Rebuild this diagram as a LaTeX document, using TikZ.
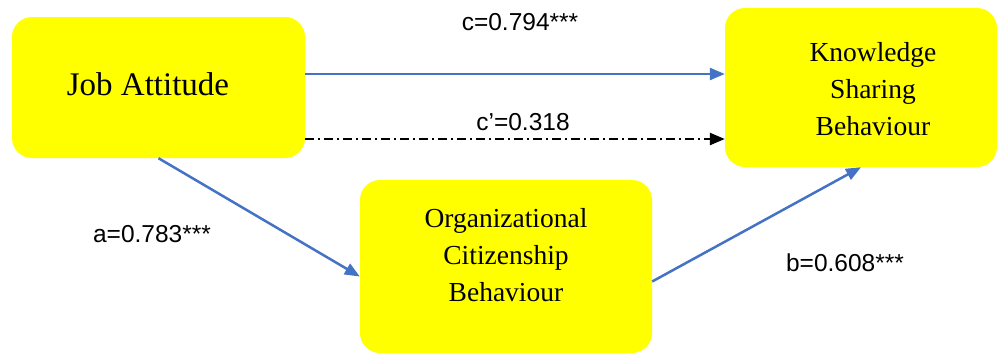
\documentclass[tikz,border=0pt]{standalone}
\usepackage{fontspec}
\setmainfont{Liberation Serif}
\setsansfont{Liberation Sans}
\usetikzlibrary{arrows.meta}

\definecolor{pathblue}{HTML}{4472C4}
\definecolor{boxyellow}{HTML}{FFFF00}

\tikzset{
  var/.style={fill=boxyellow, rounded corners=20pt, inner sep=0pt},
  vartext/.style={align=center, inner sep=0pt, font=\fontsize{27.5}{37}\selectfont},
  coef/.style={font=\sffamily\fontsize{24.5}{29}\selectfont, inner sep=0pt},
  path/.style={draw=pathblue, line width=2.5pt, -{Triangle[length=15pt,width=12pt]}},
  direct/.style={draw=black, line width=2.5pt, dash pattern=on 9pt off 4pt on 2pt off 4pt,
    -{Triangle[length=15pt,width=12pt]}}
}

\begin{document}
\begin{tikzpicture}[x=1pt,y=-1pt]
	\useasboundingbox (0,0) rectangle (1005,354);
	% boxes
	\node[var, minimum width=293pt, minimum height=141pt] (ja) at (158.5,87.5) {};
	\node[var, minimum width=272pt, minimum height=159pt] (ksb) at (861,87.5) {};
	\node[var, minimum width=292pt, minimum height=173pt] (ocb) at (506,266.5) {};
	\node[vartext, font=\fontsize{33}{40}\selectfont] (jat) at (148,84) {Job Attitude};
	\node[vartext] (ksbt) at (873,89) {Knowledge\\Sharing\\Behaviour};
	\node[vartext] (ocbt) at (506,255) {Organizational\\Citizenship\\Behaviour};

	% paths
	\draw[path] ([yshift=13.5pt]ja.east) -- ([yshift=13.5pt]ksb.west);
	\draw[direct] ([yshift=-51.5pt]ja.east) -- ([yshift=-51.5pt]ksb.west);
	\draw[path] (ja.south) -- ([yshift=-10pt]ocb.west);
	\draw[path] ([yshift=-15pt]ocb.east) -- (ksb.south);

	\node[coef] (c) at (520,22) {c=0.794***};
	\node[coef] (cp) at (523,122) {c'=0.318};
	\node[coef] (a) at (152,234) {a=0.783***};
	\node[coef] (b) at (845,263) {b=0.608***};
\end{tikzpicture}
\end{document}
